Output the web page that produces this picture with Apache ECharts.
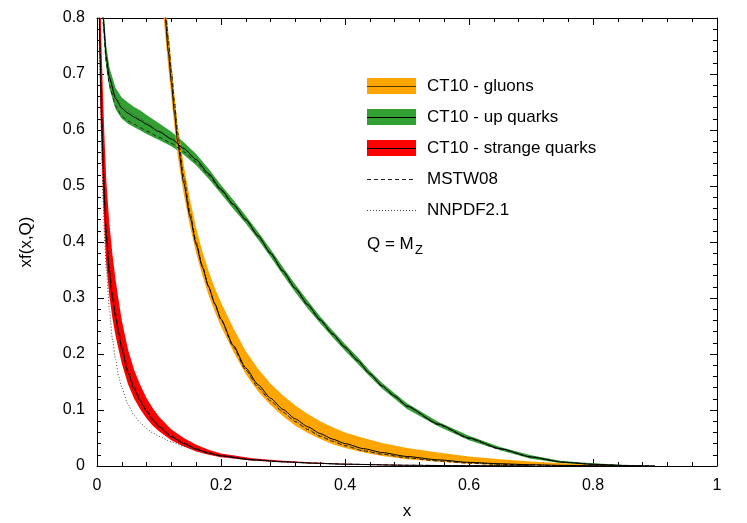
<!DOCTYPE html>
<html><head><meta charset="utf-8">
<script src="https://cdn.jsdelivr.net/npm/echarts@6/dist/echarts.min.js"></script>
<style>html,body{margin:0;padding:0;background:#fff}#c{width:747px;height:523px}</style>
</head><body><div id="c"></div>
<script>
// ---- tick labels ----
const xTickLabels = ['0', '0.2', '0.4', '0.6', '0.8', '1'];
const yTickLabels = ['0', '0.1', '0.2', '0.3', '0.4', '0.5', '0.6', '0.7', '0.8'];
const legendLabels = ['CT10 - gluons', 'CT10 - up quarks', 'CT10 - strange quarks', 'MSTW08', 'NNPDF2.1'];

// ---- gluon ----
const gluonX     = [0.095,0.10,0.105,0.11,0.115,0.12,0.125,0.13,0.14,0.15,0.16,0.17,0.18,0.19,0.20,0.22,0.24,0.26,0.28,0.30,0.32,0.34,0.36,0.38,0.40,0.43,0.46,0.50,0.55,0.60,0.65,0.70,0.75,0.80,0.85];
const gluonCT10  = [1.0,0.92,0.86,0.80,0.74,0.685,0.63,0.578,0.505,0.445,0.395,0.355,0.32,0.29,0.262,0.215,0.175,0.145,0.121,0.101,0.084,0.070,0.058,0.048,0.040,0.031,0.024,0.017,0.011,0.0065,0.004,0.0022,0.0011,0.0005,0.0002];
const gluonLow   = [0.965,0.89,0.83,0.77,0.712,0.658,0.605,0.555,0.485,0.428,0.38,0.34,0.305,0.276,0.249,0.204,0.164,0.133,0.109,0.089,0.072,0.059,0.048,0.039,0.032,0.024,0.018,0.012,0.0075,0.004,0.002,0.001,0.0004,0.0001,0];
const gluonHigh  = [1.04,0.96,0.895,0.835,0.775,0.72,0.662,0.61,0.537,0.476,0.425,0.383,0.348,0.318,0.292,0.246,0.205,0.173,0.147,0.126,0.108,0.093,0.080,0.069,0.060,0.050,0.041,0.032,0.024,0.017,0.012,0.008,0.005,0.0028,0.0014];
const gluonMSTW  = [1.02,0.94,0.88,0.82,0.76,0.703,0.647,0.594,0.516,0.452,0.399,0.357,0.32,0.289,0.261,0.212,0.171,0.14,0.116,0.096,0.079,0.065,0.053,0.044,0.036,0.027,0.021,0.0145,0.009,0.005,0.003,0.0015,0.0007,0.0003,0.0001];
const gluonNNPDF = [1.03,0.95,0.885,0.825,0.765,0.707,0.65,0.597,0.518,0.455,0.401,0.358,0.321,0.29,0.262,0.214,0.172,0.141,0.117,0.097,0.08,0.066,0.054,0.045,0.037,0.028,0.0215,0.015,0.0095,0.0055,0.0032,0.0017,0.0008,0.0003,0.0001];

// ---- up quark ----
const upX     = [0.005,0.01,0.015,0.02,0.03,0.04,0.05,0.06,0.07,0.08,0.10,0.12,0.14,0.16,0.18,0.20,0.22,0.24,0.26,0.28,0.30,0.32,0.34,0.36,0.38,0.40,0.42,0.44,0.46,0.48,0.50,0.55,0.60,0.65,0.70,0.75,0.80,0.85,0.90];
const upCT10  = [0.95,0.80,0.73,0.693,0.656,0.639,0.630,0.623,0.617,0.610,0.597,0.584,0.567,0.547,0.522,0.494,0.467,0.440,0.411,0.380,0.348,0.317,0.288,0.261,0.236,0.212,0.189,0.165,0.143,0.125,0.107,0.075,0.050,0.031,0.016,0.007,0.003,0.001,0];
const upLow   = [0.93,0.78,0.711,0.674,0.637,0.620,0.611,0.605,0.599,0.593,0.582,0.571,0.556,0.537,0.513,0.486,0.459,0.433,0.404,0.373,0.341,0.310,0.281,0.255,0.230,0.206,0.183,0.160,0.138,0.120,0.102,0.071,0.046,0.028,0.013,0.005,0.001,0,0];
const upHigh  = [0.97,0.82,0.75,0.712,0.675,0.658,0.649,0.641,0.635,0.627,0.612,0.597,0.578,0.557,0.531,0.502,0.475,0.447,0.418,0.387,0.355,0.324,0.295,0.267,0.242,0.218,0.195,0.170,0.148,0.130,0.112,0.079,0.054,0.034,0.019,0.009,0.005,0.002,0.0005];
const upMSTW  = [0.93,0.79,0.718,0.68,0.643,0.625,0.616,0.61,0.604,0.598,0.587,0.576,0.561,0.543,0.519,0.492,0.466,0.439,0.41,0.379,0.347,0.316,0.287,0.26,0.235,0.211,0.188,0.164,0.142,0.124,0.106,0.074,0.049,0.030,0.016,0.007,0.003,0.001,0];
const upNNPDF = [0.96,0.805,0.735,0.698,0.66,0.643,0.634,0.627,0.62,0.613,0.599,0.585,0.568,0.548,0.523,0.495,0.468,0.441,0.412,0.381,0.349,0.318,0.289,0.262,0.237,0.213,0.19,0.166,0.144,0.126,0.108,0.076,0.051,0.032,0.017,0.0075,0.003,0.001,0];

// ---- strange quark ----
const strX     = [0.002,0.0035,0.005,0.0075,0.01,0.0125,0.015,0.02,0.025,0.03,0.035,0.04,0.05,0.06,0.07,0.08,0.09,0.10,0.12,0.14,0.16,0.18,0.20,0.25,0.30,0.35,0.40,0.50,0.60,0.70];
const strCT10  = [0.95,0.82,0.73,0.62,0.535,0.465,0.41,0.345,0.30,0.265,0.236,0.208,0.166,0.137,0.115,0.097,0.082,0.070,0.052,0.040,0.030,0.023,0.018,0.011,0.0075,0.005,0.0032,0.0013,0.0005,0.0002];
const strLow   = [0.90,0.77,0.66,0.55,0.47,0.41,0.36,0.303,0.263,0.232,0.207,0.183,0.146,0.120,0.101,0.085,0.072,0.062,0.046,0.035,0.026,0.020,0.0158,0.0097,0.0066,0.0044,0.0028,0.0011,0.0004,0.0001];
const strHigh  = [1.0,0.92,0.85,0.74,0.65,0.575,0.51,0.432,0.377,0.332,0.295,0.26,0.208,0.171,0.144,0.121,0.103,0.088,0.065,0.050,0.038,0.029,0.0225,0.014,0.0095,0.0064,0.0041,0.0017,0.0007,0.0003];
const strMSTW  = [0.96,0.84,0.75,0.64,0.55,0.478,0.422,0.355,0.308,0.272,0.243,0.214,0.171,0.141,0.118,0.100,0.084,0.072,0.054,0.041,0.031,0.024,0.0185,0.0113,0.0077,0.0052,0.0033,0.0013,0.0005,0.0002];
const strNNPDF = [0.95,0.80,0.70,0.57,0.47,0.40,0.35,0.28,0.225,0.19,0.16,0.14,0.11,0.09,0.077,0.067,0.059,0.053,0.043,0.035,0.028,0.022,0.017,0.0102,0.007,0.0046,0.003,0.0012,0.0005,0.0002];

// ---- build ----
const FONT = '"Liberation Sans", Arial, Helvetica, sans-serif';
const ORANGE = '#ffa500', GREEN = '#33a033', RED = '#ff0000';
const SMOOTH = 0.2;

function pts(xs, ys) { return xs.map((x, i) => [x, ys[i]]); }

const series = [];
function band(xs, lo, hi, color) {
  series.push({
    type: 'custom', clip: true, silent: true, z: 1,
    data: [[xs[0], lo[0]]],
    renderItem: function (params, api) {
      const poly = [];
      for (let i = 0; i < xs.length; i++) poly.push(api.coord([xs[i], hi[i]]));
      for (let i = xs.length - 1; i >= 0; i--) poly.push(api.coord([xs[i], lo[i]]));
      const cs = params.coordSys;
      return {
        type: 'group',
        children: [{ type: 'polygon', shape: { points: poly, smooth: 0 }, style: { fill: color, stroke: null } }],
        clipPath: { type: 'rect', shape: { x: cs.x, y: cs.y, width: cs.width, height: cs.height } }
      };
    }
  });
}
function curve(xs, ys, type, color, width) {
  series.push({ type: 'line', data: pts(xs, ys), symbol: 'none', silent: true, clip: true,
    smooth: SMOOTH, smoothMonotone: 'x', lineStyle: { color: color, width: width, type: type }, z: 3 });
}

band(strX, strLow, strHigh, RED);
band(upX, upLow, upHigh, GREEN);
band(gluonX, gluonLow, gluonHigh, ORANGE);

curve(strX, strNNPDF, [1, 2], '#444', 1);
curve(upX, upNNPDF, [1, 2], '#444', 1);
curve(gluonX, gluonNNPDF, [1, 2], '#444', 1);
curve(strX, strMSTW, [4, 3], '#222', 1);
curve(upX, upMSTW, [4, 3], '#222', 1);
curve(gluonX, gluonMSTW, [4, 3], '#222', 1);
curve(strX, strCT10, 'solid', '#000', 1);
curve(upX, upCT10, 'solid', '#000', 1);
curve(gluonX, gluonCT10, 'solid', '#000', 1);

const axisCommon = {
  axisLine: { show: true, onZero: false, lineStyle: { color: '#000', width: 1 } },
  axisTick: { show: true, inside: true, length: 7, lineStyle: { color: '#000', width: 1 } },
  minorTick: { show: true, splitNumber: 5, length: 4, lineStyle: { color: '#000', width: 1 } },
  splitLine: { show: false }, minorSplitLine: { show: false }
};

// ---- legend (graphic) ----
const LX = 367, LW = 49, TX = 427;
const rowsY = [86, 117, 148, 179, 210];
const patchColors = [ORANGE, GREEN, RED];
const graphics = [];
for (let i = 0; i < 3; i++) {
  graphics.push({ type: 'rect', z: 100, shape: { x: LX, y: rowsY[i] - 8, width: LW, height: 16 }, style: { fill: patchColors[i] } });
  graphics.push({ type: 'line', z: 101, shape: { x1: LX, y1: rowsY[i] + 0.5, x2: LX + LW, y2: rowsY[i] + 0.5 }, style: { stroke: i === 0 ? '#5a3a00' : '#000', lineWidth: 1 } });
}
graphics.push({ type: 'line', z: 100, shape: { x1: LX, y1: rowsY[3] + 0.5, x2: LX + LW, y2: rowsY[3] + 0.5 }, style: { stroke: '#222', lineWidth: 1, lineDash: [4, 3] } });
graphics.push({ type: 'line', z: 100, shape: { x1: LX, y1: rowsY[4] + 0.5, x2: LX + LW, y2: rowsY[4] + 0.5 }, style: { stroke: '#444', lineWidth: 1, lineDash: [1, 2] } });
for (let i = 0; i < 5; i++) {
  graphics.push({ type: 'text', z: 100, x: TX, y: rowsY[i], style: { text: legendLabels[i], font: '17px ' + FONT, fill: '#000', verticalAlign: 'middle' } });
}
graphics.push({ type: 'text', z: 100, x: LX, y: 244, style: { text: 'Q = M', font: '17px ' + FONT, fill: '#000', verticalAlign: 'middle' } });
graphics.push({ type: 'text', z: 100, x: 415, y: 250, style: { text: 'Z', font: '13px ' + FONT, fill: '#000', verticalAlign: 'middle' } });

const option = {
  animation: false,
  backgroundColor: '#fff',
  textStyle: { fontFamily: FONT },
  grid: { left: 97, right: 30, top: 18, bottom: 57, containLabel: false, outerBoundsMode: 'none' },
  xAxis: [
    Object.assign({ type: 'value', min: 0, max: 1, interval: 0.2, position: 'bottom',
      axisLabel: { color: '#000', fontSize: 16, fontFamily: FONT, margin: 12,
        formatter: v => xTickLabels[Math.round(v / 0.2)] },
      name: 'x', nameLocation: 'middle', nameGap: 37,
      nameTextStyle: { color: '#000', fontSize: 17, fontFamily: FONT } }, axisCommon),
    Object.assign({ type: 'value', min: 0, max: 1, interval: 0.2, position: 'top',
      axisLabel: { show: false } }, axisCommon)
  ],
  yAxis: [
    Object.assign({ type: 'value', min: 0, max: 0.8, interval: 0.1, position: 'left',
      axisLabel: { color: '#000', fontSize: 16, fontFamily: FONT, margin: 12,
        formatter: v => yTickLabels[Math.round(v / 0.1)] },
      name: 'xf(x,Q)', nameLocation: 'middle', nameGap: 62,
      nameTextStyle: { color: '#000', fontSize: 17, fontFamily: FONT } }, axisCommon),
    Object.assign({ type: 'value', min: 0, max: 0.8, interval: 0.1, position: 'right',
      axisLabel: { show: false } }, axisCommon)
  ],
  series: series,
  graphic: graphics
};

const chart = echarts.init(document.getElementById('c'), null, { renderer: 'canvas' });
chart.setOption(option);
</script>
</body></html>
